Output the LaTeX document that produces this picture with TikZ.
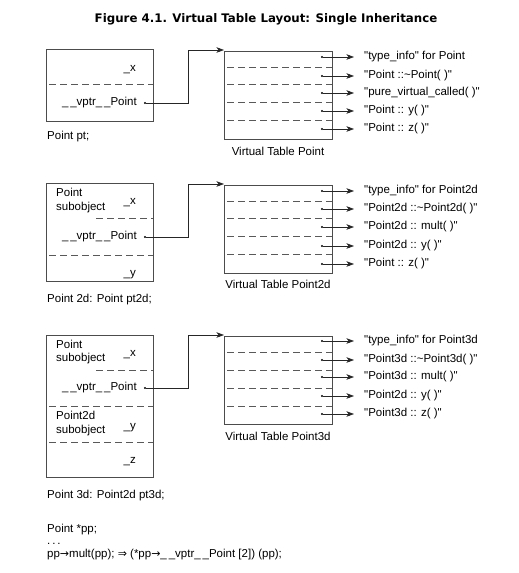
\documentclass[tikz,border=0pt]{standalone}
\usepackage{fontspec}
\setmainfont{Liberation Sans}[Ligatures=TeXOff]
\newfontfamily\titlefont{DejaVu Sans}
\newfontfamily\symfont{DejaVu Sans}
\usetikzlibrary{arrows.meta}
\newcommand{\symarr}[1]{{\symfont\fontsize{11}{12}\selectfont #1}}
\begin{document}
\begin{tikzpicture}[x=1pt,y=-1pt,
  font=\fontsize{11.5}{13}\selectfont,
  frame/.style={draw=black!70, line width=0.7pt, anchor=north west, inner sep=0},
  dsh/.style={draw=black!65, line width=0.7pt, dash pattern=on 7pt off 4pt, dash phase=-3pt},
  dot/.style={circle, fill=black, inner sep=0, minimum size=2.4pt},
  conn/.style={draw=black!85, line width=0.65pt},
  arr/.style={conn, -{Stealth[length=7.5pt,width=5.5pt,inset=2pt]}},
  fn/.style={anchor=west, inner sep=0, text height=8pt, text depth=2.5pt},
  rt/.style={anchor=east, inner sep=0, text height=8pt, text depth=2.5pt},
  lt/.style={anchor=west, inner sep=0, text height=8pt, text depth=2.5pt},
  vtcap/.style={anchor=center, inner sep=0, text height=8pt, text depth=2.5pt}]
\useasboundingbox (0,0) rectangle (519,573);
\fill[white] (0,0) rectangle (519,573);

% title
\node[inner sep=0, font=\titlefont\bfseries\fontsize{11.8}{14}\selectfont] (title) at (266,19) {Figure 4.1. Virtual Table Layout: Single Inheritance};

% ---------------- group 1 ----------------
\node[frame, minimum width=107pt, minimum height=72pt] (b1) at (46,49) {};
\draw[dsh] (46,84) -- (153,84);
\node[rt] (b1x) at (136,69) {\_x};
\node[rt] (b1v) at (137,103) {\_\,\_vptr\_\,\_Point};
\node[dot] (p1) at (145,103) {};
\node[lt] (c1) at (47,137) {Point pt;};

\node[frame, minimum width=108pt, minimum height=88pt] (t1) at (224,51) {};
\foreach \yy in {67,84,102,120} \draw[dsh] (224,\yy) -- (332,\yy);
\node[vtcap] (v1) at (278,153) {Virtual Table Point};
\coordinate (k1) at (188,50);
\coordinate (e1) at (224,50);
\draw[arr] (p1) -| (k1) -- (e1);

\foreach \yy/\tx [count=\i] in {57/{"type\_info" for Point},
    76/{"Point ::\textasciitilde Point( )"},
    93/{"pure\_virtual\_called( )"},
    111/{"Point :: y( )"},
    129/{"Point :: z( )"}} {
  \node[dot] (d1\i) at (322,\yy) {};
  \node[fn] (f1\i) at (364,\yy) {\tx};
  \draw[arr] (d1\i) -- ([xshift=-10pt]f1\i.west);
}

% ---------------- group 2 ----------------
\node[frame, minimum width=107pt, minimum height=98pt] (b2) at (46,183) {};
\node[lt] (b2p) at (56,194) {Point};
\node[lt] (b2s) at (56,208) {subobject};
\node[rt] (b2x) at (136,202) {\_x};
\draw[dsh] (93,218) -- (153,218);
\node[rt] (b2v) at (137,237) {\_\,\_vptr\_\,\_Point};
\node[dot] (p2) at (145,237) {};
\draw[dsh] (46,255) -- (153,255);
\node[rt] (b2y) at (136,274) {\_y};
\node[lt] (c2) at (47,300) {Point 2d: Point pt2d;};

\node[frame, minimum width=108pt, minimum height=88pt] (t2) at (224,185) {};
\foreach \yy in {201,218,236,254} \draw[dsh] (224,\yy) -- (332,\yy);
\node[vtcap] (v2) at (278,286) {Virtual Table Point2d};
\coordinate (k2) at (188,184);
\coordinate (e2) at (224,184);
\draw[arr] (p2) -| (k2) -- (e2);

\foreach \yy/\tx [count=\i] in {191/{"type\_info" for Point2d},
    209/{"Point2d ::\textasciitilde Point2d( )"},
    227/{"Point2d :: mult( )"},
    246/{"Point2d :: y( )"},
    264/{"Point :: z( )"}} {
  \node[dot] (d2\i) at (322,\yy) {};
  \node[fn] (f2\i) at (364,\yy) {\tx};
  \draw[arr] (d2\i) -- ([xshift=-10pt]f2\i.west);
}

% ---------------- group 3 ----------------
\node[frame, minimum width=107pt, minimum height=142pt] (b3) at (46,335) {};
\node[lt] (b3p) at (56,346) {Point};
\node[lt] (b3s) at (56,359) {subobject};
\node[rt] (b3x) at (136,354) {\_x};
\draw[dsh] (93,370) -- (153,370);
\node[rt] (b3v) at (137,388) {\_\,\_vptr\_\,\_Point};
\node[dot] (p3) at (145,388) {};
\draw[dsh] (46,406) -- (153,406);
\node[lt] (b3q) at (56,417) {Point2d};
\node[lt] (b3r) at (56,431) {subobject};
\node[rt] (b3y) at (136,427) {\_y};
\draw[dsh] (46,442) -- (153,442);
\node[rt] (b3z) at (136,461) {\_z};
\node[lt] (c3) at (47,496) {Point 3d: Point2d pt3d;};

\node[frame, minimum width=108pt, minimum height=88pt] (t3) at (224,336) {};
\foreach \yy in {352,370,388,406} \draw[dsh] (224,\yy) -- (332,\yy);
\node[vtcap] (v3) at (278,438) {Virtual Table Point3d};
\coordinate (k3) at (188,335);
\coordinate (e3) at (224,335);
\draw[arr] (p3) -| (k3) -- (e3);

\foreach \yy/\tx [count=\i] in {341/{"type\_info" for Point3d},
    360/{"Point3d ::\textasciitilde Point3d( )"},
    377/{"Point3d :: mult( )"},
    396/{"Point2d :: y( )"},
    414/{"Point3d :: z( )"}} {
  \node[dot] (d3\i) at (322,\yy) {};
  \node[fn] (f3\i) at (364,\yy) {\tx};
  \draw[arr] (d3\i) -- ([xshift=-10pt]f3\i.west);
}

% ---------------- code ----------------
\node[lt] (code1) at (47,530) {Point *pp;};
\node[lt] (code2) at (47,542) {.\,.\,.};
\node[lt] (code3) at (47,555) {pp\symarr{→}mult(pp); \symarr{⇒} (*pp\symarr{→}\_\,\_vptr\_\,\_Point [2]) (pp);};
\end{tikzpicture}
\end{document}
